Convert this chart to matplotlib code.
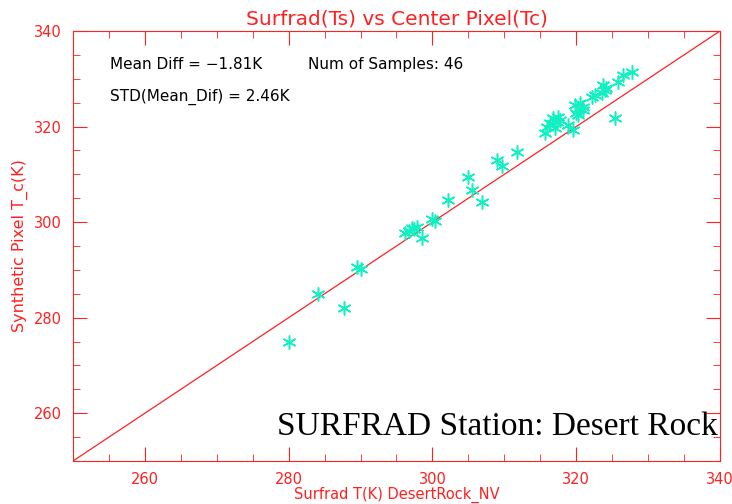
import numpy as np
import matplotlib
matplotlib.use('Agg')
import matplotlib.pyplot as plt

# surfrad temperature (x) and synthetic center pixel temperature (y)
ts = [280.0, 284.1, 287.7, 289.5, 290.0,
      296.2, 296.8, 297.2, 297.5, 297.9, 298.5, 299.9, 300.3,
      302.2, 304.9, 305.5, 306.9, 309.0, 309.7, 311.8,
      315.7, 316.0, 316.4, 316.8, 317.3, 317.7, 317.0, 317.5, 318.9, 319.6,
      319.8, 320.5, 320.2, 320.0, 320.9, 321.0, 322.2, 322.6, 323.6, 323.7,
      324.0, 324.2, 325.4, 325.8, 326.5, 327.8]
tc = [274.9, 285.0, 282.1, 290.6, 290.2,
      297.7, 298.2, 298.8, 298.5, 299.0, 296.7, 300.7, 300.2,
      304.6, 309.5, 306.7, 304.2, 313.0, 311.8, 314.7,
      318.7, 320.0, 320.8, 321.8, 321.0, 321.4, 319.7, 322.0, 320.3, 319.3,
      324.5, 324.9, 322.4, 322.8, 323.5, 324.0, 326.2, 326.6, 327.0, 328.7,
      327.7, 328.0, 321.8, 329.3, 330.8, 331.4]

red = '#ff2020'
fig = plt.figure(figsize=(7.32, 5.04), dpi=100)
ax = fig.add_axes([0.0997, 0.0853, 0.8839, 0.8532])

ax.plot([250, 340], [250, 340], color=red, lw=0.9)
ax.plot(ts, tc, linestyle='none', marker=(6, 2, 0), markersize=10,
        markeredgewidth=1.1, color='#10f0c0', mec='#10f0c0')

ax.set_xlim(250, 340)
ax.set_ylim(250, 340)
ax.set_xticks([260, 280, 300, 320, 340])
ax.set_yticks([260, 280, 300, 320, 340])
ax.set_xticks(np.arange(250, 341, 5), minor=True)
ax.set_yticks(np.arange(250, 341, 5), minor=True)
ax.tick_params(which='both', direction='in', top=True, right=True, colors=red,
               labelcolor=red, labelsize=10.5)
ax.tick_params(which='major', length=10, pad=8)
ax.tick_params(which='minor', length=5)
for s in ax.spines.values():
    s.set_color(red)

ax.set_title('Surfrad(Ts) vs Center Pixel(Tc)', color=red, fontsize=14.5, pad=5)
ax.set_xlabel('Surfrad T(K) DesertRock_NV', color=red, fontsize=10.5, labelpad=0)
ax.set_ylabel('Synthetic Pixel T_c(K)', color=red, fontsize=11.5, labelpad=4)

ax.text(0.057, 0.922, 'Mean Diff = \u22121.81K', transform=ax.transAxes, fontsize=11, va='center')
ax.text(0.363, 0.922, 'Num of Samples: 46', transform=ax.transAxes, fontsize=11, va='center')
ax.text(0.057, 0.847, 'STD(Mean_Dif) = 2.46K', transform=ax.transAxes, fontsize=11, va='center')
ax.text(0.997, 0.08, 'SURFRAD Station: Desert Rock', transform=ax.transAxes,
        fontsize=24, family='Liberation Serif', ha='right', va='center')

fig.savefig('out.png', dpi=100)
